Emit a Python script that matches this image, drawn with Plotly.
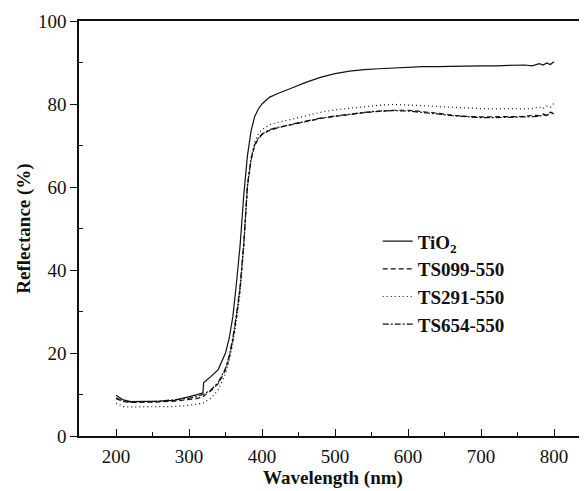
import plotly.graph_objects as go

wavelength = [200, 205, 210, 220, 240, 260, 280, 300, 310, 319, 320, 325, 330, 340, 350, 355, 360, 365,
              370, 375, 380, 385, 390, 395, 400, 410, 420, 440, 460, 480, 500, 520, 540, 560, 580, 600,
              620, 640, 660, 680, 700, 720, 740, 760, 770, 780, 785, 790, 795, 800]

tio2 = [9.8, 9.2, 8.7, 8.3, 8.3, 8.4, 8.6, 9.4, 9.9, 10.4, 12.8, 13.6, 14.3, 16.0, 20.0, 23.5, 28.7, 36.8,
        46.0, 58.0, 67.5, 73.5, 77.0, 78.8, 80.0, 81.6, 82.4, 83.8, 85.2, 86.4, 87.3, 87.9, 88.3, 88.5, 88.7, 88.9,
        89.0, 89.0, 89.1, 89.1, 89.2, 89.2, 89.3, 89.4, 89.2, 89.7, 89.4, 89.9, 89.5, 90.2]

ts099 = [9.0, 8.6, 8.3, 8.1, 8.1, 8.2, 8.4, 8.7, 9.0, 9.4, 9.6, 10.3, 10.9, 12.6, 15.9, 18.8, 23.0, 28.7,
         35.5, 46.0, 60.0, 66.5, 70.0, 71.6, 72.6, 73.6, 74.2, 75.0, 75.8, 76.5, 77.0, 77.5, 77.9, 78.2, 78.5, 78.5,
         78.2, 77.8, 77.3, 77.0, 76.9, 76.9, 77.0, 77.0, 77.3, 77.2, 77.6, 77.3, 78.0, 77.6]

ts291 = [7.9, 7.4, 7.1, 7.0, 7.0, 7.0, 7.1, 7.4, 7.6, 7.9, 8.0, 8.5, 9.1, 11.1, 15.1, 18.2, 22.3, 27.8,
         34.5, 45.0, 59.5, 67.0, 70.8, 72.8, 73.8, 75.0, 75.5, 76.3, 77.2, 78.0, 78.6, 79.0, 79.4, 79.7, 79.9, 79.8,
         79.6, 79.4, 79.2, 79.0, 78.9, 78.8, 78.9, 78.8, 78.9, 79.3, 78.9, 79.5, 79.2, 80.2]

ts654 = [9.2, 8.8, 8.4, 8.2, 8.2, 8.4, 8.7, 9.1, 9.5, 10.0, 10.1, 10.6, 11.1, 12.9, 16.3, 19.3, 23.6, 29.3,
         36.2, 46.5, 60.5, 66.8, 70.2, 71.8, 72.8, 73.8, 74.3, 75.1, 75.9, 76.6, 77.1, 77.6, 78.0, 78.3, 78.4, 78.3,
         78.0, 77.6, 77.2, 76.9, 76.7, 76.7, 76.8, 76.9, 77.1, 77.0, 77.4, 77.2, 77.8, 78.3]

series_names = ["TiO<sub>2</sub>", "TS099-550", "TS291-550", "TS654-550"]
x_ticks = [200, 300, 400, 500, 600, 700, 800]
y_ticks = [0, 20, 40, 60, 80, 100]

FONT = "Liberation Serif, Times New Roman, serif"
INK = "#111111"

fig = go.Figure()
styles = ["solid", "5px,3px", "1px,3px", "6px,2px,2px,2px"]
for name, ys, dash in zip(series_names, [tio2, ts099, ts291, ts654], styles):
    fig.add_trace(go.Scatter(x=wavelength, y=ys, mode="lines", name=name,
                             line=dict(color=INK, width=1.2, dash=dash)))

fig.update_layout(
    width=579, height=483,
    margin=dict(l=71, r=0, t=13, b=55),
    paper_bgcolor="white", plot_bgcolor="white",
    font=dict(family=FONT, size=19, color=INK),
    legend=dict(x=0.588, y=0.515, xanchor="left", yanchor="top",
                bgcolor="rgba(0,0,0,0)", font=dict(family=FONT, size=19, color=INK, weight="bold"),
                tracegroupgap=0, itemwidth=30),
    showlegend=True,
)
fig.update_xaxes(
    range=[149.3, 845.2], tickvals=x_ticks, ticks="inside", ticklen=7, tickwidth=1.3, tickcolor=INK,
    minor=dict(tickvals=[250, 350, 450, 550, 650, 750], ticks="inside", ticklen=4, tickwidth=1.3, tickcolor=INK),
    showline=True, linecolor=INK, linewidth=1.5, mirror=True, showgrid=False, zeroline=False,
    automargin=False, ticklabelstandoff=2,
    tickfont=dict(family=FONT, size=19, color=INK),
    title=dict(text="Wavelength (nm)", font=dict(family=FONT, size=19, color=INK, weight="bold"), standoff=4),
)
fig.update_yaxes(
    range=[0, 100], tickvals=y_ticks, ticks="outside", ticklen=7, tickwidth=1.3, tickcolor=INK,
    minor=dict(tickvals=[10, 30, 50, 70, 90], ticks="inside", ticklen=4, tickwidth=1.3, tickcolor=INK),
    showline=True, linecolor=INK, linewidth=1.5, mirror=False, showgrid=False, zeroline=False,
    automargin=False,
    tickfont=dict(family=FONT, size=19, color=INK),
    title=dict(text="Reflectance (%)", font=dict(family=FONT, size=19, color=INK, weight="bold"), standoff=2),
)

fig.write_html("out.html")
